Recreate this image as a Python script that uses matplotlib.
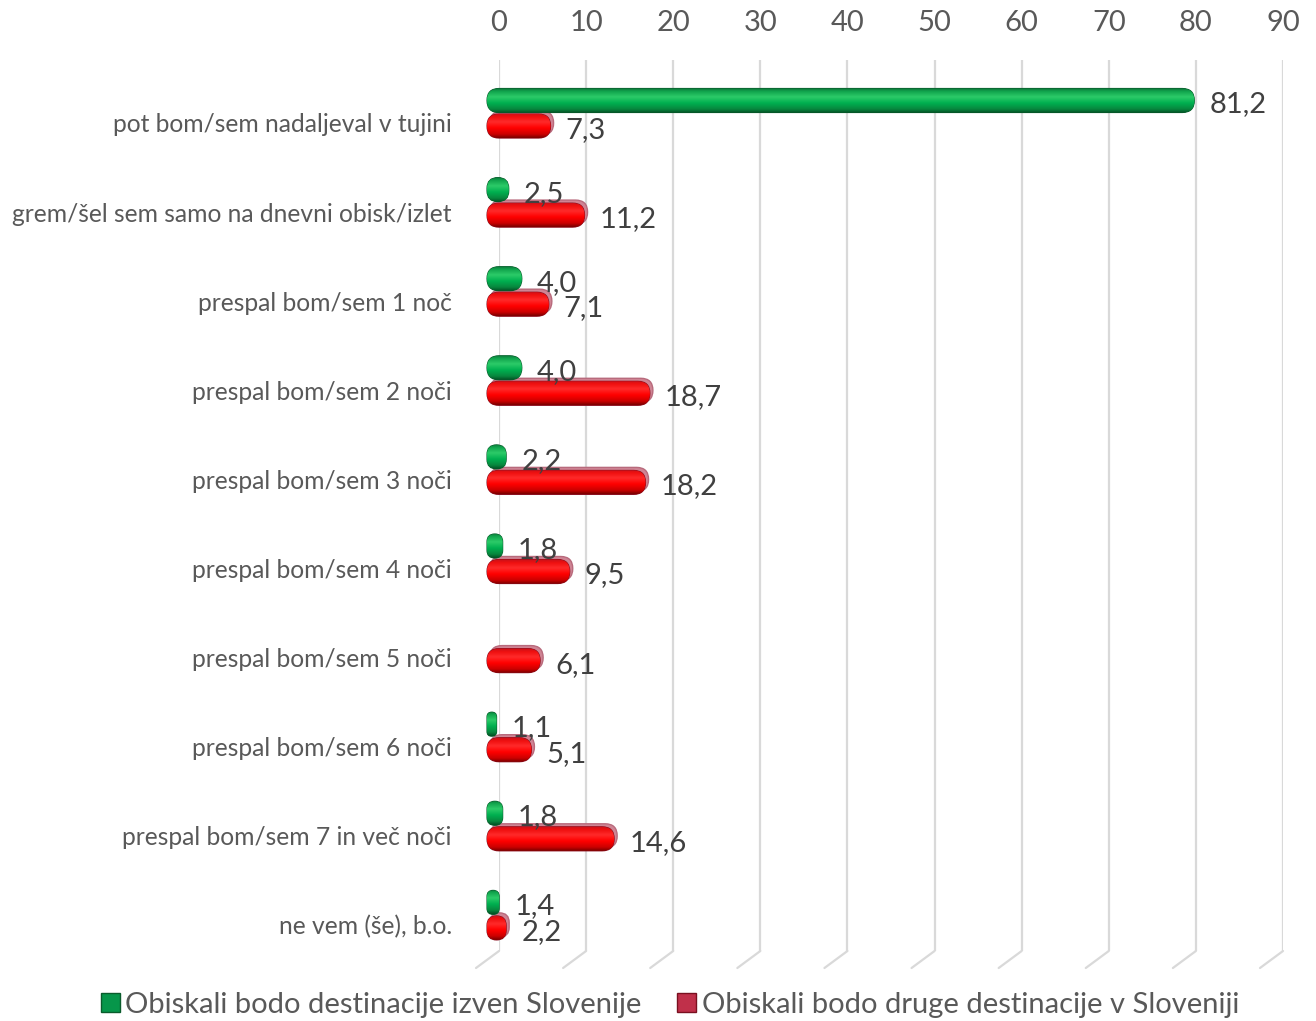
import numpy as np
import matplotlib
matplotlib.use("Agg")
import matplotlib.pyplot as plt
import matplotlib.transforms as mtransforms
from matplotlib.patches import FancyBboxPatch, Patch
from matplotlib.colors import LinearSegmentedColormap

plt.rcParams['font.family'] = ['Lato', 'DejaVu Sans']

categories = [
    "pot bom/sem nadaljeval v tujini",
    "grem/šel sem samo na dnevni obisk/izlet",
    "prespal bom/sem 1 noč",
    "prespal bom/sem 2 noči",
    "prespal bom/sem 3 noči",
    "prespal bom/sem 4 noči",
    "prespal bom/sem 5 noči",
    "prespal bom/sem 6 noči",
    "prespal bom/sem 7 in več noči",
    "ne vem (še), b.o.",
]
abroad = [81.2, 2.5, 4.0, 4.0, 2.2, 1.8, None, 1.1, 1.8, 1.4]
slovenia = [7.3, 11.2, 7.1, 18.7, 18.2, 9.5, 6.1, 5.1, 14.6, 2.2]
series_names = ["Obiskali bodo destinacije izven Slovenije",
                "Obiskali bodo druge destinacije v Sloveniji"]
x_ticks = list(range(0, 100, 10))

TEXT = "#595959"
VALUE = "#404040"
GRID = "#d9d9d9"

green_cmap = LinearSegmentedColormap.from_list(
    "g", [(0, "#0d7038"), (0.12, "#10a34c"), (0.35, "#2ccb68"),
          (0.6, "#00b050"), (0.85, "#07873e"), (1, "#034f24")])
red_cmap = LinearSegmentedColormap.from_list(
    "r", [(0, "#c8101a"), (0.15, "#f01010"), (0.35, "#ff2a2a"),
          (0.6, "#ff0000"), (0.85, "#cc0000"), (1, "#7a0000")])

fig = plt.figure(figsize=(13.16, 10.21), dpi=100)
W, H = 1316, 1021
ax = fig.add_axes([499 / W, 1 - 951 / H, 784 / W, 891 / H])
ax.set_xlim(0, 90)
ax.set_ylim(9.293, -0.707)

for s in ax.spines.values():
    s.set_visible(False)

# back-wall gridlines plus the slanted floor part
for t in x_ticks:
    ax.axvline(t, color=GRID, lw=1.6, zorder=0)
    ax.annotate("", xy=(t, 9.293), xytext=(-23, -17), textcoords="offset pixels",
                arrowprops=dict(arrowstyle="-", color=GRID, lw=1.6,
                                shrinkA=0, shrinkB=0),
                annotation_clip=False)

ax.xaxis.tick_top()
ax.set_xticks(x_ticks)
ax.set_xticklabels([str(t) for t in x_ticks])
ax.tick_params(axis="x", length=0, pad=17, labelsize=21, labelcolor=TEXT)
ax.set_yticks(range(len(categories)))
ax.set_yticklabels(categories)
ax.tick_params(axis="y", length=0, pad=34, labelsize=17.7, labelcolor=TEXT)

# px per data unit, used to keep rounded corners circular
p0 = ax.transData.transform((0, 0))
p1 = ax.transData.transform((1, 1))
px_x = abs(p1[0] - p0[0])
px_y = abs(p1[1] - p0[1])
aspect = px_x / px_y

front = mtransforms.offset_copy(ax.transData, fig=fig, x=-12, y=0, units="dots")
rim = mtransforms.offset_copy(ax.transData, fig=fig, x=-9, y=3, units="dots")

bar_h = 0.27


def capsule(v, yc, cmap, edge, with_rim=False):
    h_px = bar_h * px_y
    r_px = min(h_px / 2, v * px_x / 2)
    r = r_px / px_x
    if with_rim:
        back = FancyBboxPatch((0, yc - bar_h / 2), v, bar_h,
                              boxstyle=f"round,pad=0,rounding_size={r}",
                              mutation_aspect=aspect, transform=rim,
                              fc="#cf8494", ec="#b86a7c", lw=1,
                              clip_on=False, zorder=2)
        ax.add_patch(back)
    p = FancyBboxPatch((0, yc - bar_h / 2), v, bar_h,
                       boxstyle=f"round,pad=0,rounding_size={r}",
                       mutation_aspect=aspect, transform=front,
                       fc=cmap(0.6), ec=edge, lw=0.8, clip_on=False, zorder=3)
    ax.add_patch(p)
    grad = np.linspace(0, 1, 64).reshape(-1, 1)
    im = ax.imshow(grad, cmap=cmap, aspect="auto", origin="upper",
                   extent=(-3, v + 1, yc + bar_h / 2, yc - bar_h / 2),
                   zorder=4, interpolation="bilinear")
    im.set_clip_path(p)
    im.set_clip_box(fig.bbox)


for i, (g, r) in enumerate(zip(abroad, slovenia)):
    yg = i - 0.2525
    yr = i + 0.034
    if g is not None:
        capsule(g, yg, green_cmap, "#0a5c2c")
        ax.annotate(f"{g:.1f}".replace(".", ","), xy=(g, yg), xytext=(3, -4),
                    textcoords="offset pixels", ha="left", va="center",
                    fontsize=21, color=VALUE, zorder=6, annotation_clip=False)
    capsule(r, yr, red_cmap, "#8a1020", with_rim=True)
    ax.annotate(f"{r:.1f}".replace(".", ","), xy=(r, yr), xytext=(3, -4),
                textcoords="offset pixels", ha="left", va="center",
                fontsize=21, color=VALUE, zorder=6, annotation_clip=False)

ax.set_xlim(0, 90)
ax.set_ylim(9.293, -0.707)

handles = [Patch(facecolor="#06964a", edgecolor="#0a5c2c"),
           Patch(facecolor="#c0304a", edgecolor="#7a1020")]
fig.legend(handles, series_names, loc="center", bbox_to_anchor=(0.509, 0.0157),
           ncol=2, frameon=False, fontsize=21, labelcolor=TEXT,
           handlelength=0.65, handleheight=0.65, handletextpad=0.2,
           columnspacing=1.2)

fig.savefig("out.png", dpi=100)
